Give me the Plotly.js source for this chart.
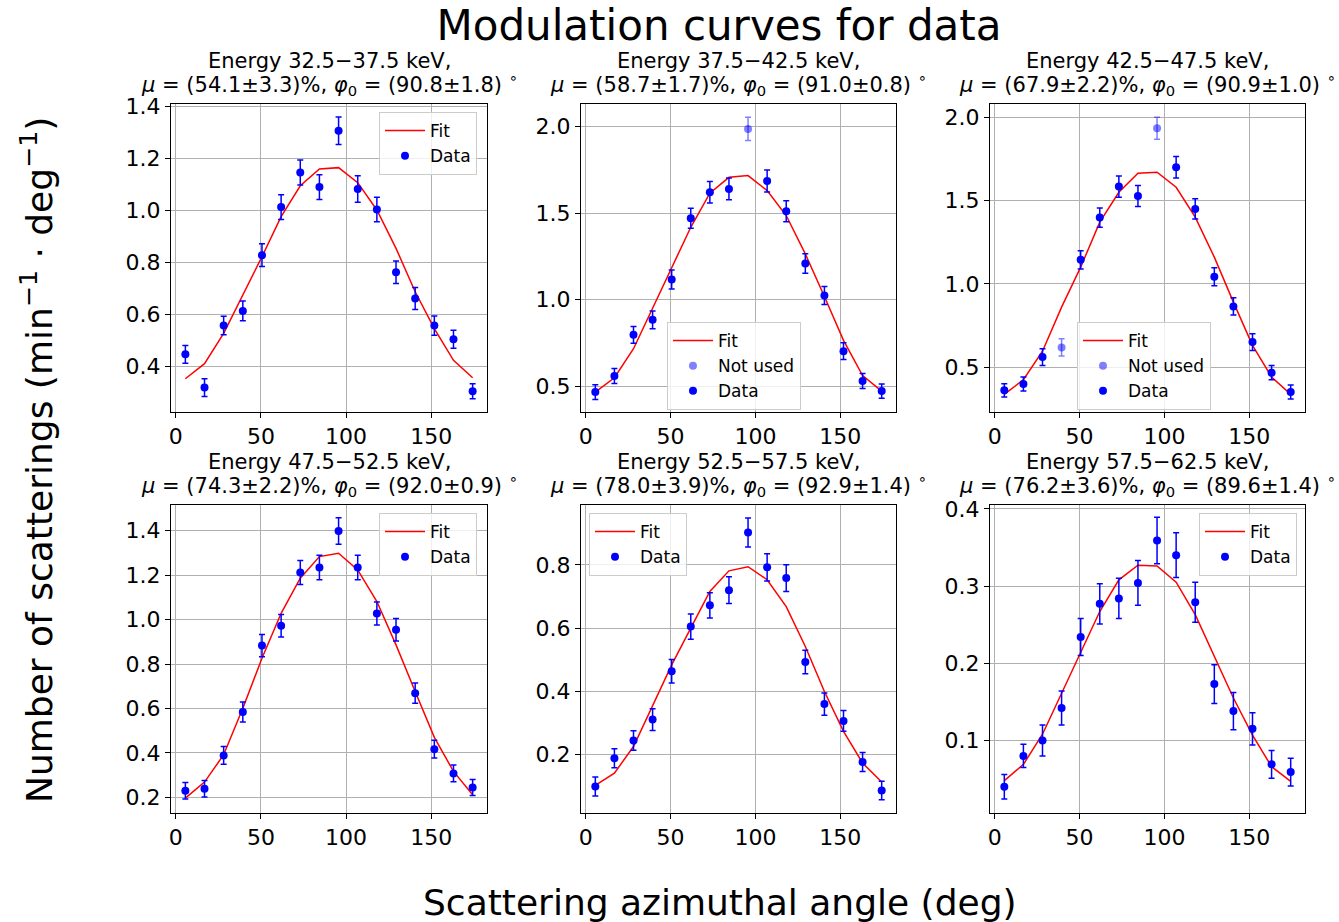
<!DOCTYPE html>
<html><head><meta charset="utf-8">
<script src="https://cdn.plot.ly/plotly-3.0.1.min.js"></script>
<style>html,body{margin:0;padding:0;background:#fff}#chart{width:1339px;height:922px}</style>
</head><body><div id="chart"></div>
<script>
// ---------- data ----------
const angles = [5.625, 16.875, 28.125, 39.375, 50.625, 61.875, 73.125, 84.375, 95.625, 106.875, 118.125, 129.375, 140.625, 151.875, 163.125, 174.375];
const xTicks = [0, 50, 100, 150];

const energyBins = ['32.5−37.5', '37.5−42.5', '42.5−47.5', '47.5−52.5', '52.5−57.5', '57.5−62.5'];
const muVals = ['54.1±3.3', '58.7±1.7', '67.9±2.2', '74.3±2.2', '78.0±3.9', '76.2±3.6'];
const phiVals = ['90.8±1.8', '91.0±0.8', '90.9±1.0', '92.0±0.9', '92.9±1.4', '89.6±1.4'];

const data1 = [0.446, 0.318, 0.557, 0.613, 0.828, 1.013, 1.146, 1.090, 1.307, 1.083, 1.004, 0.762, 0.661, 0.557, 0.504, 0.304];
const err1  = [0.034, 0.034, 0.036, 0.038, 0.044, 0.048, 0.048, 0.048, 0.053, 0.051, 0.047, 0.043, 0.042, 0.037, 0.035, 0.029];
const fit1  = [0.352, 0.410, 0.527, 0.672, 0.822, 0.976, 1.095, 1.160, 1.165, 1.107, 1.002, 0.854, 0.687, 0.545, 0.423, 0.356];
const notUsed1 = [null, null, null, null, null, null, null, null, null, null, null, null, null, null, null, null];

const data2 = [0.465, 0.558, 0.796, 0.883, 1.116, 1.470, 1.621, 1.640, null, 1.686, 1.511, 1.209, 1.024, 0.702, 0.529, 0.471];
const err2  = [0.042, 0.043, 0.048, 0.051, 0.055, 0.058, 0.062, 0.063, 0.067, 0.064, 0.061, 0.056, 0.052, 0.048, 0.043, 0.041];
const fit2  = [0.465, 0.548, 0.716, 0.947, 1.187, 1.418, 1.615, 1.707, 1.717, 1.630, 1.486, 1.264, 1.018, 0.764, 0.561, 0.471];
const notUsed2 = [null, null, null, null, null, null, null, null, 1.987, null, null, null, null, null, null, null];

const data3 = [0.360, 0.398, 0.560, null, 1.144, 1.398, 1.584, 1.528, null, 1.700, 1.450, 1.042, 0.864, 0.650, 0.466, 0.350];
const err3  = [0.040, 0.042, 0.050, 0.052, 0.055, 0.058, 0.064, 0.063, 0.066, 0.064, 0.061, 0.054, 0.052, 0.050, 0.043, 0.042];
const fit3  = [0.336, 0.424, 0.595, 0.860, 1.100, 1.370, 1.550, 1.664, 1.670, 1.580, 1.400, 1.160, 0.890, 0.630, 0.440, 0.336];
const notUsed3 = [null, null, null, 0.618, null, null, null, null, 1.934, null, null, null, null, null, null, null];

const data4 = [0.230, 0.239, 0.389, 0.584, 0.883, 0.972, 1.211, 1.234, 1.398, 1.234, 1.027, 0.954, 0.669, 0.417, 0.308, 0.245];
const err4  = [0.037, 0.037, 0.040, 0.045, 0.050, 0.051, 0.054, 0.055, 0.060, 0.055, 0.052, 0.051, 0.046, 0.040, 0.038, 0.036];
const fit4  = [0.197, 0.269, 0.392, 0.601, 0.826, 1.028, 1.186, 1.283, 1.298, 1.223, 1.081, 0.886, 0.676, 0.470, 0.317, 0.212];
const notUsed4 = notUsed1;

const data5 = [0.100, 0.189, 0.245, 0.311, 0.464, 0.605, 0.672, 0.720, 0.902, 0.792, 0.758, 0.493, 0.360, 0.307, 0.177, 0.087];
const err5  = [0.030, 0.030, 0.031, 0.034, 0.037, 0.040, 0.040, 0.042, 0.046, 0.043, 0.042, 0.037, 0.035, 0.033, 0.030, 0.029];
const fit5  = [0.103, 0.142, 0.226, 0.353, 0.484, 0.600, 0.716, 0.781, 0.794, 0.753, 0.668, 0.542, 0.400, 0.274, 0.174, 0.114];
const notUsed5 = notUsed1;

const data6 = [0.040, 0.080, 0.100, 0.142, 0.234, 0.277, 0.284, 0.304, 0.359, 0.340, 0.279, 0.173, 0.138, 0.115, 0.069, 0.059];
const err6  = [0.016, 0.015, 0.020, 0.022, 0.024, 0.026, 0.026, 0.029, 0.030, 0.029, 0.026, 0.025, 0.024, 0.021, 0.018, 0.018];
const fit6  = [0.048, 0.069, 0.108, 0.161, 0.215, 0.267, 0.308, 0.327, 0.326, 0.305, 0.263, 0.209, 0.155, 0.107, 0.066, 0.047];
const notUsed6 = notUsed1;

// ---------- layout settings ----------
const W = 1339, H = 922;
const FONT = 'DejaVu Sans, Verdana, sans-serif';
const panels = [
  {data: data1, err: err1, fit: fit1, nu: notUsed1, yr: [0.224, 1.41], dt: 0.2, px: [171, 487], py: [104, 412], leg: {x: 477, y: 112, xa: 'right'}},
  {data: data2, err: err2, fit: fit2, nu: notUsed2, yr: [0.35, 2.131], dt: 0.5, px: [581, 896], py: [104, 412], leg: {x: 667, y: 322, xa: 'left'}},
  {data: data3, err: err3, fit: fit3, nu: notUsed3, yr: [0.23, 2.08], dt: 0.5, px: [990, 1305], py: [104, 412], leg: {x: 1077, y: 322, xa: 'left'}},
  {data: data4, err: err4, fit: fit4, nu: notUsed4, yr: [0.130, 1.515], dt: 0.2, px: [171, 487], py: [505, 813], leg: {x: 477, y: 513, xa: 'right'}},
  {data: data5, err: err5, fit: fit5, nu: notUsed5, yr: [0.016, 0.989], dt: 0.2, px: [581, 896], py: [505, 813], leg: {x: 589, y: 513, xa: 'left'}},
  {data: data6, err: err6, fit: fit6, nu: notUsed6, yr: [0.006, 0.405], dt: 0.1, px: [990, 1305], py: [505, 813], leg: {x: 1297, y: 513, xa: 'right'}}
];

const traces = [];
const layout = {
  width: W, height: H,
  margin: {l: 0, r: 0, t: 0, b: 0},
  paper_bgcolor: '#ffffff', plot_bgcolor: '#ffffff',
  font: {family: FONT, color: '#000000'},
  title: {text: 'Modulation curves for data', x: 719 / W, xanchor: 'center', y: 1 - 25 / H, yanchor: 'middle',
          font: {family: FONT, size: 42, color: '#000000'}},
  annotations: [],
  showlegend: true
};

panels.forEach((p, i) => {
  const n = i + 1;
  const sfx = (n === 1 ? '' : String(n));
  const xa = 'x' + sfx, ya = 'y' + sfx;
  const legName = 'legend' + sfx;
  const hasNU = p.nu.some(v => v !== null);
  traces.push({x: angles, y: p.fit, type: 'scatter', mode: 'lines', name: 'Fit',
    line: {color: '#ff0000', width: 1.5}, xaxis: xa, yaxis: ya, legend: legName});
  if (hasNU) {
    traces.push({x: angles, y: p.nu, type: 'scatter', mode: 'markers', name: 'Not used',
      marker: {color: 'rgba(0,0,255,0.5)', size: 8},
      error_y: {type: 'data', array: p.err, color: 'rgba(0,0,255,0.5)', thickness: 1.5, width: 3},
      xaxis: xa, yaxis: ya, legend: legName});
  }
  traces.push({x: angles, y: p.data, type: 'scatter', mode: 'markers', name: 'Data',
    marker: {color: '#0000ff', size: 8},
    error_y: {type: 'data', array: p.err, color: '#0000ff', thickness: 1.5, width: 3},
    xaxis: xa, yaxis: ya, legend: legName});

  const axCommon = {
    showgrid: true, gridcolor: '#b0b0b0', gridwidth: 1, zeroline: false,
    showline: true, mirror: true, linecolor: '#000000', linewidth: 1,
    ticks: 'outside', ticklen: 5, tickwidth: 1, tickcolor: '#000000',
    tickfont: {family: FONT, size: 22, color: '#000000'}
  };
  layout['xaxis' + sfx] = Object.assign({}, axCommon, {
    domain: [p.px[0] / W, p.px[1] / W], range: [-2.81, 182.81],
    tickmode: 'array', tickvals: xTicks, ticktext: xTicks.map(String), anchor: ya
  });
  layout['yaxis' + sfx] = Object.assign({}, axCommon, {
    domain: [1 - p.py[1] / H, 1 - p.py[0] / H], range: p.yr,
    dtick: p.dt, tick0: 0, tickformat: '.1f', anchor: xa
  });
  layout[legName] = {
    x: p.leg.x / W, y: 1 - p.leg.y / H, xref: 'paper', yref: 'paper',
    xanchor: p.leg.xa, yanchor: 'top',
    bgcolor: 'rgba(255,255,255,0.8)', bordercolor: '#cccccc', borderwidth: 1,
    font: {family: FONT, size: 17, color: '#000000'}, itemwidth: 40,
    tracegroupgap: 0
  };
  const cx = (p.px[0] + p.px[1]) / 2 / W;
  layout.annotations.push({
    xref: 'paper', yref: 'paper', x: cx, y: 1 - (p.py[0] - 43) / H,
    xanchor: 'center', yanchor: 'middle', showarrow: false,
    text: 'Energy ' + energyBins[i] + ' keV,',
    font: {family: FONT, size: 21, color: '#000000'}
  });
  layout.annotations.push({
    xref: 'paper', yref: 'paper', x: cx, y: 1 - (p.py[0] - 20) / H,
    xanchor: 'center', yanchor: 'middle', showarrow: false,
    text: '<i>μ</i> = (' + muVals[i] + ')%, <i>φ</i><sub>0</sub> = (' + phiVals[i] + ') <sup>∘</sup>',
    font: {family: FONT, size: 21, color: '#000000'}
  });
});

layout.annotations.push({
  xref: 'paper', yref: 'paper', x: 720 / W, y: 1 - 902 / H, xanchor: 'center', yanchor: 'middle',
  showarrow: false, text: 'Scattering azimuthal angle (deg)',
  font: {family: FONT, size: 36, color: '#000000'}
});
layout.annotations.push({
  xref: 'paper', yref: 'paper', x: 37 / W, y: 1 - 460 / H, xanchor: 'center', yanchor: 'middle',
  showarrow: false, textangle: -90, text: 'Number of scatterings (min<sup>−1</sup> · deg<sup>−1</sup>)',
  font: {family: FONT, size: 36, color: '#000000'}
});

Plotly.newPlot('chart', traces, layout, {displayModeBar: false, staticPlot: true});
</script>
</body></html>
